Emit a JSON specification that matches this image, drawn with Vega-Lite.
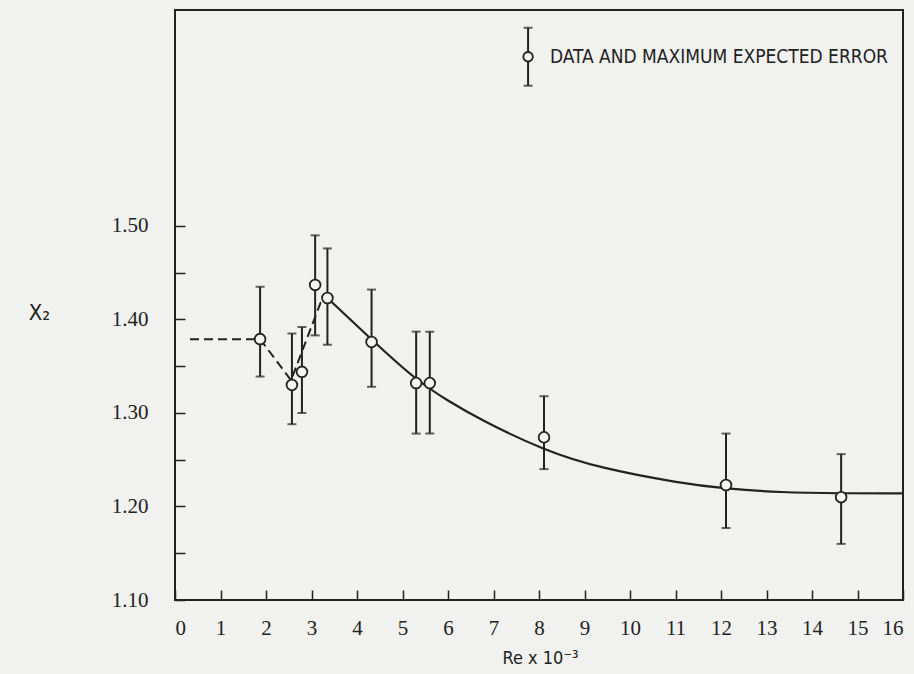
{
  "$schema": "https://vega.github.io/schema/vega-lite/v6.json",
  "width": 728,
  "height": 590,
  "autosize": "none",
  "padding": {"left": 175, "top": 10, "right": 11, "bottom": 74},
  "background": "#f1f1ef",
  "config": {
    "view": {"stroke": "#222", "strokeWidth": 2},
    "axis": {
      "grid": false,
      "domain": false,
      "tickColor": "#222",
      "tickWidth": 1.5,
      "tickSize": -10,
      "labelFont": "Liberation Serif",
      "labelFontSize": 21,
      "labelColor": "#222",
      "titleFont": "Liberation Sans Narrow, DejaVu Sans Condensed, Liberation Sans",
      "titleFontWeight": "normal",
      "titleColor": "#222"
    }
  },
  "datasets": {
    "points": [
      {"Re": 1.87, "X2": 1.379, "lo": 1.339, "hi": 1.435},
      {"Re": 2.57, "X2": 1.330, "lo": 1.288, "hi": 1.385},
      {"Re": 2.79, "X2": 1.344, "lo": 1.300, "hi": 1.392},
      {"Re": 3.08, "X2": 1.437, "lo": 1.383, "hi": 1.490},
      {"Re": 3.35, "X2": 1.423, "lo": 1.373, "hi": 1.476},
      {"Re": 4.32, "X2": 1.376, "lo": 1.328, "hi": 1.432},
      {"Re": 5.30, "X2": 1.332, "lo": 1.278, "hi": 1.387},
      {"Re": 5.60, "X2": 1.332, "lo": 1.278, "hi": 1.387},
      {"Re": 8.11, "X2": 1.274, "lo": 1.240, "hi": 1.318},
      {"Re": 12.11, "X2": 1.223, "lo": 1.177, "hi": 1.278},
      {"Re": 14.64, "X2": 1.210, "lo": 1.160, "hi": 1.256}
    ],
    "dashed": [
      {"Re": 0.33, "X2": 1.379},
      {"Re": 1.87, "X2": 1.379},
      {"Re": 2.55, "X2": 1.335},
      {"Re": 3.2, "X2": 1.418},
      {"Re": 3.35, "X2": 1.423}
    ],
    "curve": [
      {"Re": 3.35, "X2": 1.423},
      {"Re": 3.35, "X2": 1.423},
      {"Re": 4.33, "X2": 1.378},
      {"Re": 5.30, "X2": 1.335},
      {"Re": 6.00, "X2": 1.313},
      {"Re": 6.70, "X2": 1.293},
      {"Re": 8.11, "X2": 1.260},
      {"Re": 9.34, "X2": 1.241},
      {"Re": 11.1, "X2": 1.225},
      {"Re": 12.1, "X2": 1.219},
      {"Re": 13.3, "X2": 1.215},
      {"Re": 14.64, "X2": 1.214},
      {"Re": 16.0, "X2": 1.214},
      {"Re": 16.0, "X2": 1.214}
    ],
    "legend": [
      {"Re": 7.76, "X2": 1.681, "lo": 1.650, "hi": 1.712, "tx": 8.24, "label": "DATA AND MAXIMUM EXPECTED ERROR"}
    ]
  },
  "encoding": {
    "x": {
      "field": "Re", "type": "quantitative",
      "scale": {"domain": [0, 16], "nice": false, "zero": false},
      "axis": {
        "values": [0,1,2,3,4,5,6,7,8,9,10,11,12,13,14,15,16],
        "format": "d",
        "labelPadding": 27,
        "title": "Re x 10⁻³",
        "titleFontSize": 18,
        "titleX": 365,
        "titleY": 49,
        "titleAnchor": "middle"
      }
    },
    "y": {
      "field": "X2", "type": "quantitative",
      "scale": {"domain": [1.10, 1.731], "nice": false, "zero": false},
      "axis": {
        "values": [1.10,1.15,1.20,1.25,1.30,1.35,1.40,1.45,1.50],
        "labelExpr": "round(datum.value*100) % 10 == 0 ? format(datum.value, '.2f') : ''",
        "labelPadding": 37,
        "title": "X₂",
        "titleAngle": 0,
        "titleFontSize": 22,
        "titleX": -136,
        "titleY": 302,
        "titleAlign": "center",
        "titleBaseline": "middle"
      }
    }
  },
  "layer": [
    {
      "data": {"name": "dashed"},
      "mark": {"type": "line", "color": "#222", "strokeWidth": 2, "strokeDash": [9, 5]},
      "encoding": {}
    },
    {
      "data": {"name": "curve"},
      "mark": {"type": "line", "color": "#222", "strokeWidth": 2.2, "interpolate": "basis"},
      "encoding": {}
    },
    {
      "data": {"name": "points"},
      "mark": {"type": "rule", "color": "#222", "strokeWidth": 2},
      "encoding": {"y": {"field": "lo", "type": "quantitative"}, "y2": {"field": "hi"}}
    },
    {
      "data": {"name": "points"},
      "mark": {"type": "tick", "orient": "horizontal", "color": "#222", "size": 9, "thickness": 2},
      "encoding": {"y": {"field": "lo", "type": "quantitative"}}
    },
    {
      "data": {"name": "points"},
      "mark": {"type": "tick", "orient": "horizontal", "color": "#222", "size": 9, "thickness": 2},
      "encoding": {"y": {"field": "hi", "type": "quantitative"}}
    },
    {
      "data": {"name": "points"},
      "mark": {"type": "point", "filled": true, "fill": "#f4f4f2", "stroke": "#222", "strokeWidth": 1.8, "size": 115, "opacity": 1},
      "encoding": {}
    },
    {
      "data": {"name": "legend"},
      "mark": {"type": "rule", "color": "#222", "strokeWidth": 2},
      "encoding": {"y": {"field": "lo", "type": "quantitative"}, "y2": {"field": "hi"}}
    },
    {
      "data": {"name": "legend"},
      "mark": {"type": "tick", "orient": "horizontal", "color": "#222", "size": 9, "thickness": 2},
      "encoding": {"y": {"field": "lo", "type": "quantitative"}}
    },
    {
      "data": {"name": "legend"},
      "mark": {"type": "tick", "orient": "horizontal", "color": "#222", "size": 9, "thickness": 2},
      "encoding": {"y": {"field": "hi", "type": "quantitative"}}
    },
    {
      "data": {"name": "legend"},
      "mark": {"type": "point", "filled": true, "fill": "#f4f4f2", "stroke": "#222", "strokeWidth": 1.8, "size": 90, "opacity": 1},
      "encoding": {}
    },
    {
      "data": {"name": "legend"},
      "mark": {"type": "text", "align": "left", "baseline": "middle", "font": "Liberation Sans Narrow, DejaVu Sans Condensed, Liberation Sans", "fontSize": 19, "color": "#222"},
      "encoding": {"x": {"field": "tx", "type": "quantitative"}, "text": {"field": "label"}}
    }
  ]
}
